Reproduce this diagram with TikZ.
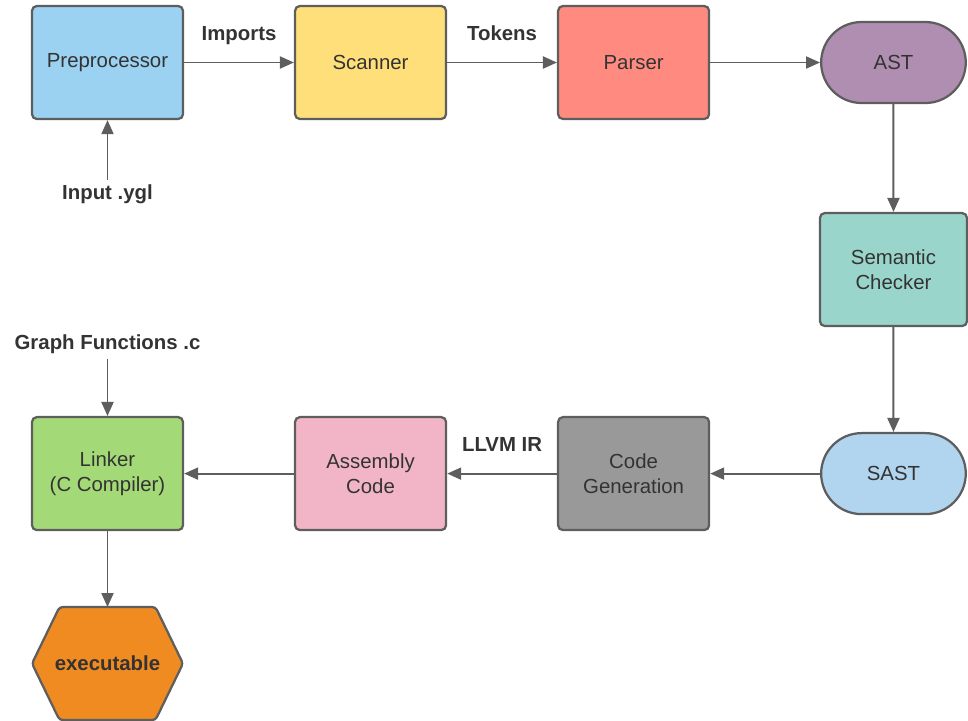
\documentclass[tikz,border=0pt]{standalone}
\usepackage{fontspec}
\setmainfont{Liberation Sans}
\usetikzlibrary{shapes,shapes.misc,arrows.meta,positioning,backgrounds}

\definecolor{preblue}{RGB}{155,209,241}
\definecolor{scanyellow}{RGB}{255,223,122}
\definecolor{parsered}{RGB}{255,139,128}
\definecolor{astpurple}{RGB}{176,142,178}
\definecolor{semteal}{RGB}{154,213,203}
\definecolor{sastblue}{RGB}{178,213,239}
\definecolor{codegray}{RGB}{153,153,153}
\definecolor{asmpink}{RGB}{242,181,200}
\definecolor{linkgreen}{RGB}{164,217,120}
\definecolor{exeorange}{RGB}{240,139,33}
\definecolor{edgegray}{RGB}{94,94,94}
\definecolor{textgray}{RGB}{51,51,51}

\begin{document}
\begin{tikzpicture}
				[
					node distance=27.45mm,
					font=\fontsize{14.5}{17.5}\selectfont,
					procbox/.style={rectangle, rounded corners=1.2mm, draw=edgegray, line width=1.6pt, text=textgray, align=center, minimum width=37.75mm, minimum height=28.25mm},
					databox/.style={rounded rectangle, draw=edgegray, line width=1.6pt, text=textgray, minimum width=38.5mm, minimum height=20.25mm},
					hexbox/.style={rectangle, outer sep=0pt, text=textgray, font=\fontsize{14.5}{17.5}\selectfont\bfseries, minimum width=37.75mm, minimum height=28.25mm},
					edgelabel/.style={text=textgray, text depth=3pt, font=\fontsize{14.5}{17.5}\selectfont\bfseries},
					flow/.style={-{Triangle[length=3.5mm, width=3mm]}, draw=edgegray, line width=1.4pt},
				]
				\useasboundingbox (0,0) rectangle (242mm,-180mm);

				\node [procbox, fill=preblue] (pre) at (26.875mm,-15.625mm) {Preprocessor};
				\node [procbox, fill=scanyellow] (scanner) [right=of pre] {Scanner};
				\node [procbox, fill=parsered] (parser) [right=of scanner] {Parser};
				\node [databox, fill=astpurple] (ast) [right=of parser] {AST};
				\node [procbox, fill=semteal, minimum width=36.75mm] (semantic) [below=26.95mm of ast] {Semantic\\Checker};
				\node [databox, fill=sastblue] (sast) [below=26.2mm of semantic] {SAST};
				\node [procbox, fill=codegray] (codegen) [left=of sast] {Code\\Generation};
				\node [procbox, fill=asmpink] (assembly) [left=of codegen] {Assembly\\Code};
				\node [procbox, fill=linkgreen] (linker) [left=of assembly] {Linker\\(C Compiler)};
				\node [hexbox] (exe) [below=18.95mm of linker] {executable};

				% hexagon behind the executable node
				\begin{scope}[on background layer]
					\draw[draw=edgegray, fill=exeorange, line width=1.6pt, rounded corners=0.8mm]
						([xshift=6.875mm]exe.north west) -- ([xshift=-6.875mm]exe.north east) -- (exe.east)
						-- ([xshift=-6.875mm]exe.south east) -- ([xshift=6.875mm]exe.south west) -- (exe.west) -- cycle;
				\end{scope}

				\node [edgelabel] (input) [below=15mm of pre] {Input .ygl};
				\node [edgelabel] (graphfns) [above=14.3mm of linker] {Graph Functions .c};

				\draw[flow] (input) -- (pre);
				\draw[flow] (pre) -- node[edgelabel, above=3mm] {Imports} (scanner);
				\draw[flow] (scanner) -- node[edgelabel, above=3mm] {Tokens} (parser);
				\draw[flow] (parser) -- (ast);
				\draw[flow] (ast) -- (semantic);
				\draw[flow] (semantic) -- (sast);
				\draw[flow] (sast) -- (codegen);
				\draw[flow] (codegen) -- node[edgelabel, above=3mm] {LLVM IR} (assembly);
				\draw[flow] (assembly) -- (linker);
				\draw[flow] (graphfns) -- (linker);
				\draw[flow] (linker) -- (exe);

			\end{tikzpicture}
\end{document}
